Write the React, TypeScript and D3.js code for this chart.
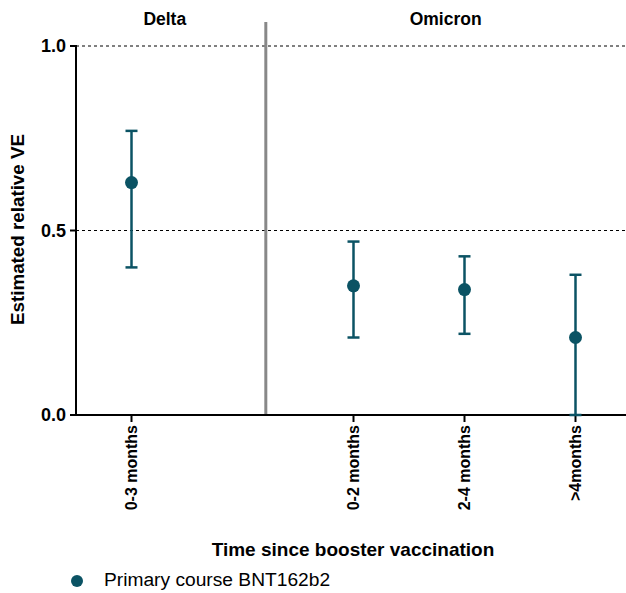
import React from 'react';
import * as d3 from 'd3';

const slots = ['0-3 months', '', '0-2 months', '2-4 months', '>4months'];
const categories = ['0-3 months', '0-2 months', '2-4 months', '>4months'];
const estimates = [0.63, 0.35, 0.34, 0.21];
const lowerCI = [0.40, 0.21, 0.22, 0.0];
const upperCI = [0.77, 0.47, 0.43, 0.38];
const yTicks = [0.0, 0.5, 1.0];
const gridLines = [0.5, 1.0];
const panels = [
  { name: 'Delta', at: 0.3 },
  { name: 'Omicron', at: 2.83 },
];
const dividerAt = 1.21;
const seriesName = 'Primary course BNT162b2';

const W = 626;
const H = 593;
const COLOR = '#0b5364';
const FONT = '"Liberation Sans", Arial, sans-serif';

export default function App() {
  const left = 76;
  const top = 46;
  const bottom = 415;
  const step = 111;

  const x = d3.scaleBand<string>()
    .domain(slots.map((s, i) => String(i)))
    .range([left, left + step * slots.length])
    .paddingInner(0)
    .paddingOuter(0);
  const cx = (i: number) => (x(String(i)) as number) + x.bandwidth() / 2;
  const slotIndex = (c: string) => slots.indexOf(c);
  const linX = d3.scaleLinear().domain([0, 1]).range([cx(0), cx(1)]);

  const y = d3.scaleLinear().domain([0, 1]).range([bottom, top]);
  const capHalf = 6;

  return (
    <svg width={W} height={H} style={{ position: 'absolute', left: 0, top: 0, background: '#fff' }}
      fontFamily={FONT}>
      {/* grid lines */}
      {gridLines.map(g => (
        <line key={g} x1={left} x2={W} y1={y(g)} y2={y(g)} stroke="#000" strokeWidth={1} strokeDasharray="3,3" />
      ))}

      {/* panel titles */}
      {panels.map(p => (
        <text key={p.name} x={linX(p.at)} y={25}
          textAnchor="middle" fontSize={17.5} fontWeight="bold" fill="#000">{p.name}</text>
      ))}

      {/* divider */}
      <line x1={linX(dividerAt)} x2={linX(dividerAt)} y1={22} y2={bottom} stroke="#888" strokeWidth={3} />

      {/* y axis */}
      <line x1={left} x2={left} y1={top - 1} y2={bottom + 1} stroke="#000" strokeWidth={2} />
      {yTicks.map(t => (
        <g key={t}>
          <line x1={left - 6} x2={left} y1={y(t)} y2={y(t)} stroke="#000" strokeWidth={2} />
          <text x={left - 10} y={y(t)} dy="0.35em" textAnchor="end" fontSize={18} fontWeight="bold" fill="#000">
            {d3.format('.1f')(t)}
          </text>
        </g>
      ))}
      <text transform={`translate(24,${(top + bottom) / 2 - 1}) rotate(-90)`} textAnchor="middle"
        fontSize={18.8} fontWeight="bold" fill="#000">Estimated relative VE</text>

      {/* x axis */}
      <line x1={left - 1} x2={W} y1={bottom} y2={bottom} stroke="#000" strokeWidth={2} />
      {categories.map(c => (
        <g key={c} transform={`translate(${cx(slotIndex(c))},${bottom})`}>
          <line y1={0} y2={7} stroke="#000" strokeWidth={2} />
          <text transform="rotate(-90)" x={-10} dy="0.36em" textAnchor="end" fontSize={16} fontWeight="bold" fill="#000">{c}</text>
        </g>
      ))}
      <text x={353} y={556} textAnchor="middle" fontSize={19} fontWeight="bold" fill="#000">Time since booster vaccination</text>

      {/* error bars and points */}
      {categories.map((c, i) => {
        const px = cx(slotIndex(c));
        return (
          <g key={c}>
            <line x1={px} x2={px} y1={y(lowerCI[i])} y2={y(upperCI[i])} stroke={COLOR} strokeWidth={2.5} />
            <line x1={px - capHalf} x2={px + capHalf} y1={y(upperCI[i])} y2={y(upperCI[i])} stroke={COLOR} strokeWidth={2.5} />
            <line x1={px - capHalf} x2={px + capHalf} y1={y(lowerCI[i])} y2={y(lowerCI[i])} stroke={COLOR} strokeWidth={2.5} />
            <circle cx={px} cy={y(estimates[i])} r={6.5} fill={COLOR} />
          </g>
        );
      })}

      {/* legend */}
      <circle cx={77} cy={581} r={6} fill={COLOR} />
      <text x={104} y={586} fontSize={19.2} fill="#000">{seriesName}</text>
    </svg>
  );
}
